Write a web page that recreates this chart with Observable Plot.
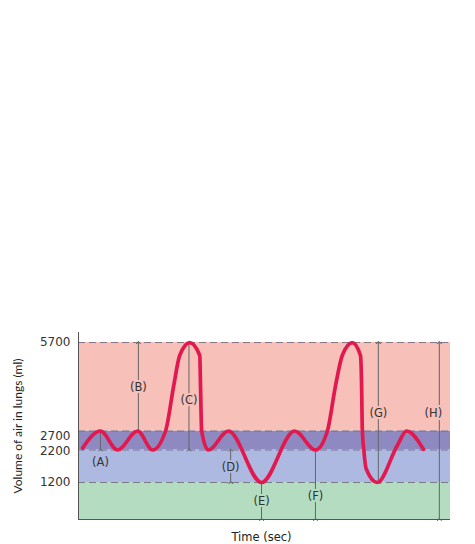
<!DOCTYPE html>
<html>
<head>
<meta charset="utf-8">
<script src="https://cdn.jsdelivr.net/npm/d3@7"></script>
<script src="https://cdn.jsdelivr.net/npm/@observablehq/plot@0.6"></script>
<style>
  html, body { margin: 0; padding: 0; background: #fff; }
  #chart svg { display: block; }
</style>
</head>
<body>
<div id="chart"></div>
<script>
// Breathing trace: time (arbitrary units) and volume (ml)
const traceTime   = [1.1, 5.9, 10.5, 15.9, 19.9, 23.4, 25.6, 27.2, 29.9, 32.6, 32.8, 33.1, 34.9, 40.3, 49.2, 58.1, 63.7, 66.9, 69.1, 70.9, 73.6, 75.8, 76.1, 76.3, 76.7, 77.3, 80.3, 85.7, 88.2, 92.7];
const traceVolume = [2250, 2700, 2200, 2700, 2200, 2700, 4240, 5260, 5700, 5260, 4240, 2700, 2200, 2700, 1200, 2700, 2200, 2700, 4240, 5260, 5700, 5260, 4240, 2700, 2200, 1630, 1200, 2320, 2700, 2220];

// Volume bands
const bandLow   = [0, 1200, 2200, 2700];
const bandHigh  = [1200, 2200, 2700, 5700];
const bandColor = ["#b3dcc1", "#adb9e0", "#8e89c1", "#f7c0b9"];

// Tick values
const yTicks = [1200, 2200, 2700, 5700];
// The illustration's volume axis is not evenly spaced: where each tick sits on it
const yTickSpacing = [1191, 2238, 2850, 5700];

// Measurement arrows
const arrowName = ["(A)", "(B)", "(C)", "(D)", "(E)", "(F)", "(G)", "(H)"];
const arrowTime = [5.9, 16.1, 29.7, 40.9, 49.2, 63.7, 80.6, 97.0];
const arrowFrom = [2200, 2700, 2200, 1200, 0, 0, 1200, 0];
const arrowTo   = [2700, 5700, 5700, 2200, 1200, 2200, 5700, 5700];
const labelTime = [5.9, 16.1, 29.7, 40.9, 49.2, 63.7, 80.6, 95.4];
const labelVol  = [1830, 4175, 3730, 1660, 585, 745, 3290, 3290];

const trace = traceTime.map((t, i) => ({t, v: traceVolume[i]}));
const bands = bandLow.map((lo, i) => ({lo, hi: bandHigh[i], color: bandColor[i]}));
const arrows = arrowName.map((name, i) => ({
  name, t: arrowTime[i], from: arrowFrom[i], to: arrowTo[i],
  lt: labelTime[i], lv: labelVol[i],
  halo: bandColor[bandLow.findIndex((lo, j) => labelVol[i] >= lo && labelVol[i] < bandHigh[j])]
}));

const yWarp = d3.scaleLinear().domain([0, ...yTicks]).range([0, ...yTickSpacing]);
const yTop = 6040;

const wide = "'DejaVu Sans', sans-serif";
const narrow = "Lato, 'Open Sans', sans-serif";

const chart = Plot.plot({
  width: 475,
  height: 544,
  marginLeft: 78,
  marginRight: 25,
  marginTop: 332,
  marginBottom: 25,
  style: {fontFamily: wide, fontSize: "11px", background: "#fff"},
  x: {domain: [0, 100], axis: null},
  y: {domain: [0, yWarp(yTop)], transform: yWarp, axis: null},
  marks: [
    Plot.rect(bands, {x1: 0, x2: 100, y1: "lo", y2: "hi", fill: "color"}),
    Plot.ruleY(yTicks, {stroke: "#6f6b7c", strokeDasharray: "7,4", strokeWidth: 1, strokeOpacity: 0.85}),
    Plot.link(arrows, {x1: "t", x2: "t", y1: "from", y2: "to", stroke: "#666", strokeWidth: 1, markerStart: "arrow", markerEnd: "arrow"}),
    Plot.text(arrows, {x: "lt", y: "lv", text: "name", fill: "#333", stroke: "halo", strokeWidth: 4, fontSize: 11.5, fontFamily: wide}),
    Plot.line(trace, {x: "t", y: "v", curve: "monotone-x", stroke: "#e2194f", strokeWidth: 3.7, strokeLinecap: "round"}),
    Plot.ruleX([0], {y1: 0, y2: yTop, stroke: "#555", strokeWidth: 1}),
    Plot.ruleY([0], {x1: 0, x2: 100, stroke: "#555", strokeWidth: 1}),
    Plot.axisY({ticks: yTicks, tickSize: 0, tickPadding: 8, tickFormat: d => String(d), label: null, fontSize: 12, fontFamily: wide, fill: "#333"}),
    Plot.text(["Volume of air in lungs (ml)"], {frameAnchor: "left", textAnchor: "middle", lineAnchor: "middle", dx: -60, rotate: -90, fontSize: 12, fontFamily: narrow, fill: "#222"}),
    Plot.text(["Time (sec)"], {frameAnchor: "bottom", textAnchor: "middle", lineAnchor: "middle", dy: 18, dx: -3, fontSize: 11.5, fontFamily: wide, fill: "#222"})
  ]
});
document.getElementById("chart").appendChild(chart);
</script>
</body>
</html>
